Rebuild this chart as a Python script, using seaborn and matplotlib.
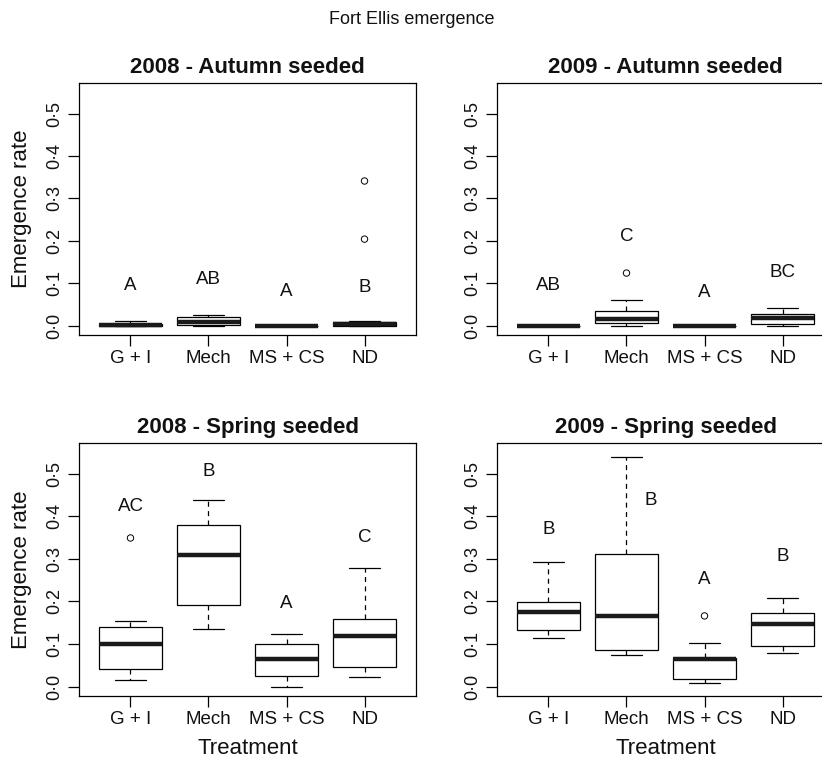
import numpy as np
import pandas as pd
import matplotlib
matplotlib.use("Agg")
import matplotlib.pyplot as plt
import seaborn as sns

# ---------------- data ----------------
treatments = ["G + I", "Mech", "MS + CS", "ND"]

# five-number summaries per treatment: [low whisker, Q1, median, Q3, high whisker]
aut08_stats = [[0.0, 0.0, 0.002, 0.004, 0.010],
               [0.0, 0.002, 0.009, 0.021, 0.024],
               [0.0, 0.0, 0.0, 0.0, 0.002],
               [0.0, 0.0, 0.004, 0.008, 0.010]]
aut09_stats = [[0.0, 0.0, 0.0, 0.0, 0.001],
               [0.0, 0.006, 0.016, 0.034, 0.060],
               [0.0, 0.0, 0.0, 0.0, 0.001],
               [0.0, 0.004, 0.017, 0.027, 0.041]]
spr08_stats = [[0.016, 0.042, 0.099, 0.139, 0.155],
               [0.135, 0.192, 0.309, 0.379, 0.438],
               [0.0, 0.026, 0.066, 0.099, 0.123],
               [0.022, 0.045, 0.119, 0.159, 0.279]]
spr09_stats = [[0.113, 0.132, 0.176, 0.198, 0.292],
               [0.075, 0.086, 0.166, 0.311, 0.540],
               [0.009, 0.019, 0.066, 0.067, 0.103],
               [0.079, 0.096, 0.146, 0.172, 0.209]]

aut08_out_x = ["ND", "ND"]
aut08_out_y = [0.341, 0.204]
aut09_out_x = ["Mech"]
aut09_out_y = [0.124]
spr08_out_x = ["G + I"]
spr08_out_y = [0.349]
spr09_out_x = ["MS + CS"]
spr09_out_y = [0.166]

aut08_letters = ["A", "AB", "A", "B"]
aut08_letter_y = [0.094, 0.110, 0.081, 0.090]
aut09_letters = ["AB", "C", "A", "BC"]
aut09_letter_y = [0.094, 0.210, 0.078, 0.125]
spr08_letters = ["AC", "B", "A", "C"]
spr08_letter_y = [0.423, 0.504, 0.196, 0.350]
spr09_letters = ["B", "B", "A", "B"]
spr09_letter_y = [0.369, 0.437, 0.251, 0.306]
spr09_letter_shift = [0.0, 0.31, 0.0, 0.0]

yticks = [0.0, 0.1, 0.2, 0.3, 0.4, 0.5]
ytick_labels = ["0·0", "0·1", "0·2", "0·3", "0·4", "0·5"]

titles = ["2008 - Autumn seeded", "2009 - Autumn seeded",
          "2008 - Spring seeded", "2009 - Spring seeded"]

# ---------------- style ----------------
sns.set_theme(style="ticks")
plt.rcParams["font.family"] = ["Liberation Sans", "DejaVu Sans"]
plt.rcParams["axes.linewidth"] = 0.9
plt.rcParams["xtick.major.size"] = 8
plt.rcParams["ytick.major.size"] = 8
plt.rcParams["xtick.major.width"] = 0.9
plt.rcParams["ytick.major.width"] = 0.9
plt.rcParams["xtick.color"] = "black"
plt.rcParams["ytick.color"] = "black"
plt.rcParams["text.color"] = "#111111"
plt.rcParams["axes.labelcolor"] = "#111111"
plt.rcParams["xtick.labelcolor"] = "#111111"
plt.rcParams["ytick.labelcolor"] = "#111111"

W, H = 822, 763
fig = plt.figure(figsize=(W / 100, H / 100), dpi=100)

def rect(x0, y0, x1, y1):
    return [x0 / W, 1 - y1 / H, (x1 - x0) / W, (y1 - y0) / H]

axes_rects = [rect(79, 83, 416, 335), rect(497, 83, 834, 335),
              rect(79, 443, 416, 696), rect(497, 443, 834, 696)]

panels = [
    (aut08_stats, aut08_out_x, aut08_out_y, aut08_letters, aut08_letter_y, [0, 0, 0, 0]),
    (aut09_stats, aut09_out_x, aut09_out_y, aut09_letters, aut09_letter_y, [0, 0, 0, 0]),
    (spr08_stats, spr08_out_x, spr08_out_y, spr08_letters, spr08_letter_y, [0, 0, 0, 0]),
    (spr09_stats, spr09_out_x, spr09_out_y, spr09_letters, spr09_letter_y, spr09_letter_shift),
]

for i, (stats, ox, oy, letters, ly, lshift) in enumerate(panels):
    ax = fig.add_axes(axes_rects[i])
    rows = []
    for t, s in zip(treatments, stats):
        for v in s:
            rows.append({"Treatment": t, "rate": v})
    df = pd.DataFrame(rows)
    sns.boxplot(data=df, x="Treatment", y="rate", order=treatments, ax=ax,
                whis=(0, 100), width=0.8, color="white", linecolor="black",
                linewidth=0.9, fill=True,
                medianprops={"linewidth": 3.2, "color": "#1a1a1a"},
                whiskerprops={"linestyle": (0, (4, 3.5))})
    odf = pd.DataFrame({"Treatment": ox, "rate": oy})
    sns.stripplot(data=odf, x="Treatment", y="rate", order=treatments, ax=ax,
                  jitter=False, marker="o", size=4.6, color="black",
                  facecolor="none", edgecolor="black", linewidth=0.7)
    for j, (lab, yv, dx) in enumerate(zip(letters, ly, lshift)):
        ax.text(j + dx, yv, lab, ha="center", va="center", fontsize=13.5)
    ax.set_xlim(-0.66, 3.66)
    ax.set_ylim(-0.022, 0.572)
    ax.set_yticks(yticks)
    ax.set_yticklabels(ytick_labels, rotation=90, va="center", fontsize=13)
    ax.tick_params(axis="x", labelsize=13.5, pad=3)
    ax.tick_params(axis="y", pad=3)
    for sp in ax.spines.values():
        sp.set_visible(True)
        sp.set_color("black")
    ax.set_title(titles[i], fontsize=16, fontweight="bold", pad=7)
    if i >= 2:
        ax.set_xlabel("Treatment", fontsize=16)
        ax.xaxis.set_label_coords(0.5, -0.166)
    else:
        ax.set_xlabel("")
    if i % 2 == 0:
        ax.set_ylabel("Emergence rate", fontsize=16)
        ax.yaxis.set_label_coords(-0.139, 0.5)
    else:
        ax.set_ylabel("")

fig.text(412 / W, 1 - 20 / H, "Fort Ellis emergence", ha="center", va="center", fontsize=13)
fig.savefig("out.png", dpi=100, facecolor="white")
